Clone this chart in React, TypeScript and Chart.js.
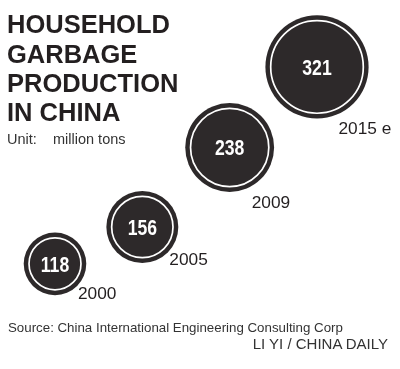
import React, { useEffect, useRef } from 'react';
import { Chart, registerables } from 'chart.js';

Chart.register(...registerables);

// ---- data ----
const categories = ['2000', '2005', '2009', '2015 e'];
const values = [118, 156, 238, 321];
const titleLines = ['HOUSEHOLD', 'GARBAGE', 'PRODUCTION', 'IN CHINA'];
const unitLabel = 'Unit:';
const unitText = 'million tons';
const sourceText = 'Source: China International Engineering Consulting Corp';
const creditText = 'LI YI / CHINA DAILY';

// ---- layout / style (not data) ----
const yearLabelOffsets = [
  [23, 35],
  [27, 38.5],
  [22, 61],
  [21.5, 67],
];
const DARK = '#2d292a';
const RADIUS_K = 2.88;

const labelPlugin = {
  id: 'bubbleLabels',
  afterDatasetsDraw(chart: any) {
    const ctx = chart.ctx as CanvasRenderingContext2D;
    const meta = chart.getDatasetMeta(0);
    meta.data.forEach((el: any, i: number) => {
      const r = el.options.radius;
      ctx.save();
      ctx.beginPath();
      ctx.arc(el.x, el.y, r - 5.3, 0, Math.PI * 2);
      ctx.strokeStyle = '#ffffff';
      ctx.lineWidth = 1.7;
      ctx.stroke();
      ctx.restore();

      // condensed bold value label
      ctx.save();
      ctx.translate(el.x, el.y + 7.8);
      ctx.scale(0.8, 1);
      ctx.fillStyle = '#ffffff';
      ctx.font = "bold 22px 'Liberation Sans', Arial, sans-serif";
      ctx.textAlign = 'center';
      ctx.textBaseline = 'alphabetic';
      ctx.fillText(String(values[i]), 0, 0);
      ctx.restore();

      ctx.save();
      ctx.fillStyle = '#231f20';
      ctx.font = "17.3px 'Liberation Sans', Arial, sans-serif";
      ctx.textAlign = 'left';
      ctx.textBaseline = 'alphabetic';
      const off = yearLabelOffsets[i];
      ctx.fillText(categories[i], el.x + off[0], el.y + off[1]);
      ctx.restore();
    });
  },
};

export default function App() {
  const canvasRef = useRef<HTMLCanvasElement | null>(null);

  useEffect(() => {
    if (!canvasRef.current) return;
    const chart = new Chart(canvasRef.current, {
      type: 'bubble',
      data: {
        labels: categories,
        datasets: [
          {
            data: values.map((v, i) => ({ x: categories[i], y: v, r: RADIUS_K * Math.sqrt(v) })) as any,
            backgroundColor: DARK,
            borderColor: DARK,
            borderWidth: 0,
            clip: false as any,
          },
        ],
      },
      options: {
        responsive: false,
        animation: false,
        events: [],
        layout: { autoPadding: false, padding: { left: 55, right: 83, top: 0, bottom: 0 } } as any,
        plugins: {
          legend: { display: false },
          tooltip: { enabled: false },
          title: { display: false },
        },
        scales: {
          x: { type: 'category', display: false, offset: false },
          y: { type: 'linear', display: false, min: 9.6, max: 390 },
        },
      },
      plugins: [labelPlugin],
    });
    return () => chart.destroy();
  }, []);

  return (
    <div
      style={{
        position: 'absolute',
        left: 0,
        top: 0,
        width: 400,
        height: 369,
        background: '#ffffff',
        overflow: 'hidden',
        fontFamily: "'Liberation Sans', Arial, sans-serif",
      }}
    >
      <canvas
        ref={canvasRef}
        width={400}
        height={369}
        style={{ position: 'absolute', left: 0, top: 0, width: 400, height: 369 }}
      />
      <div
        style={{
          position: 'absolute',
          left: 7,
          top: 10.3,
          fontSize: 25.5,
          lineHeight: '29.3px',
          fontWeight: 'bold',
          color: '#231f20',
          whiteSpace: 'nowrap',
        }}
      >
        {titleLines.map((t) => (
          <div key={t}>{t}</div>
        ))}
      </div>
      <div
        style={{
          position: 'absolute',
          left: 7,
          top: 129.5,
          fontSize: 14.5,
          lineHeight: '18px',
          color: '#333333',
          whiteSpace: 'nowrap',
        }}
      >
        <span>{unitLabel}</span>
        <span style={{ position: 'absolute', left: 46 }}>{unitText}</span>
      </div>
      <div
        style={{
          position: 'absolute',
          left: 8,
          top: 319,
          fontSize: 13.3,
          lineHeight: '18px',
          color: '#333333',
          whiteSpace: 'nowrap',
        }}
      >
        {sourceText}
      </div>
      <div
        style={{
          position: 'absolute',
          right: 12,
          top: 334,
          fontSize: 15,
          lineHeight: '20px',
          color: '#333333',
          whiteSpace: 'nowrap',
        }}
      >
        {creditText}
      </div>
    </div>
  );
}
